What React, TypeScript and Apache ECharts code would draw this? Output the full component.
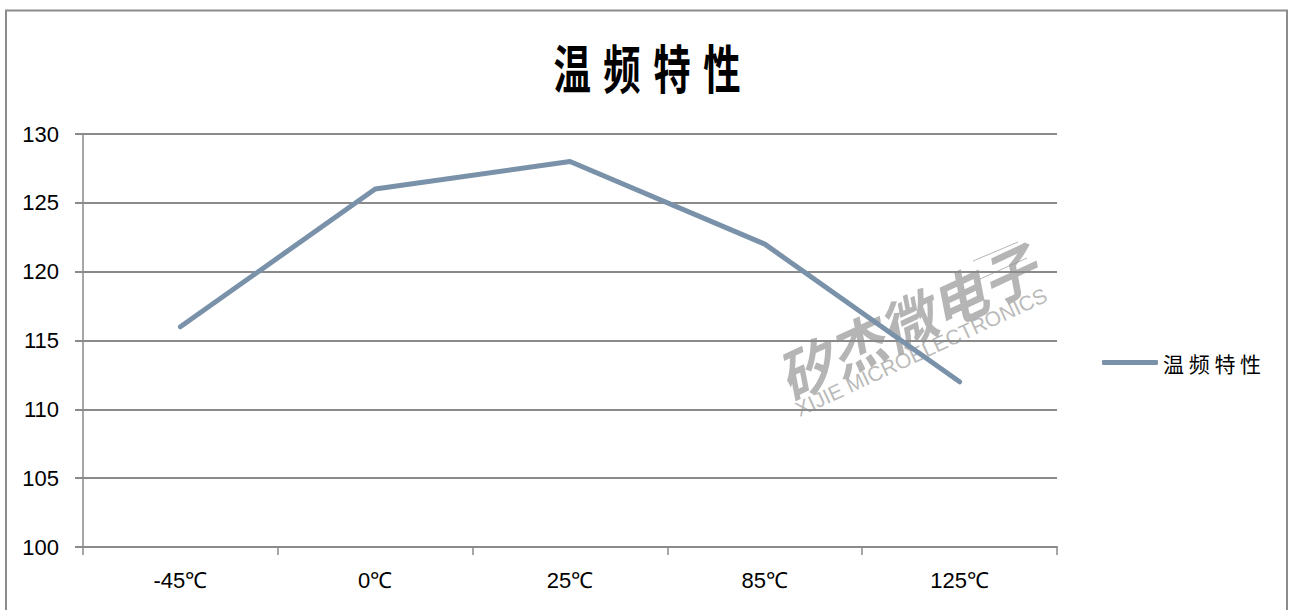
import React, { useEffect, useRef } from "react";
import * as echarts from "echarts";

const categories = ["-45℃", "0℃", "25℃", "85℃", "125℃"];
const seriesName = "温频特性";
const values = [116, 126, 128, 122, 112];
const yMin = 100;
const yMax = 130;
const yStep = 5;

const NARROW = "'Liberation Sans Narrow', 'Arial Narrow', 'Liberation Sans', sans-serif";
const CJK = "'Noto Sans CJK SC', 'Noto Sans', sans-serif";
const WM_ROT = (25 * Math.PI) / 180;

export default function App() {
  const ref = useRef<HTMLDivElement>(null);
  useEffect(() => {
    document.body.style.margin = "0";
    const chart = echarts.init(ref.current!, null, { renderer: "svg" });
    chart.setOption({
      animation: false,
      backgroundColor: "#ffffff",
      grid: { left: 83, right: 233, top: 134, bottom: 63, containLabel: false },
      legend: {
        data: [seriesName],
        left: 1097,
        top: 347,
        icon: "roundRect",
        itemWidth: 56,
        itemHeight: 5,
        formatter: (n: string) => n.split("").join(" "),
        textStyle: { fontFamily: CJK, fontSize: 21, color: "#000", padding: [0, 0, 0, 0] },
      },
      xAxis: {
        type: "category",
        data: categories,
        boundaryGap: true,
        axisLine: { show: true, lineStyle: { color: "#8a8a8a", width: 2 } },
        axisTick: { show: true, length: 8, alignWithLabel: false, lineStyle: { color: "#8a8a8a", width: 1.5 } },
        axisLabel: { margin: 22, fontFamily: NARROW, fontSize: 22, color: "#000" },
        splitLine: { show: false },
      },
      yAxis: {
        type: "value",
        min: yMin,
        max: yMax,
        interval: yStep,
        axisLine: { show: true, lineStyle: { color: "#8a8a8a", width: 1.5 } },
        axisTick: { show: true, length: 8, lineStyle: { color: "#8a8a8a", width: 2 } },
        axisLabel: { margin: 24, fontFamily: NARROW, fontSize: 22, color: "#000" },
        splitLine: { show: true, lineStyle: { color: "#8a8a8a", width: 2 } },
      },
      series: [
        {
          name: seriesName,
          type: "line",
          data: values,
          showSymbol: false,
          symbol: "none",
          itemStyle: { color: "#7a92a9" },
          lineStyle: { color: "#7a92a9", width: 5, cap: "round", join: "round" },
          z: 3,
        },
      ],
      graphic: [
        {
          type: "rect",
          z: -1,
          shape: { x: 6, y: 10.5, width: 1281, height: 640 },
          style: { fill: "none", stroke: "#8c8c8c", lineWidth: 2 },
          silent: true,
        },
        {
          type: "text",
          x: 647,
          y: 66,
          scaleX: 0.72,
          style: {
            text: "温\u2004频\u2004特\u2004性",
            fontFamily: CJK,
            fontSize: 52,
            fontWeight: "bold",
            fill: "#000",
            align: "center",
            verticalAlign: "middle",
          },
        },
        {
          type: "group",
          z: 100,
          silent: true,
          children: [
            {
              type: "text",
              x: 906,
              y: 320,
              rotation: WM_ROT,
              style: {
                text: "矽杰微电子",
                fontFamily: CJK,
                fontSize: 56,
                fontWeight: "bold",
                fontStyle: "italic",
                fill: "rgba(150,150,150,0.7)",
                align: "center",
                verticalAlign: "middle",
              },
            },
            {
              type: "text",
              x: 921,
              y: 352,
              rotation: WM_ROT,
              style: {
                text: "XIJIE MICROELECTRONICS",
                fontFamily: "'Liberation Sans', sans-serif",
                fontSize: 21,
                fill: "rgba(160,160,160,0.72)",
                align: "center",
                verticalAlign: "middle",
              },
            },
            {
              type: "line",
              shape: { x1: 973, y1: 261, x2: 1018, y2: 242 },
              style: { stroke: "rgba(150,150,150,0.7)", lineWidth: 1 },
            },
            {
              type: "line",
              shape: { x1: 980, y1: 279, x2: 1027, y2: 258 },
              style: { stroke: "rgba(150,150,150,0.7)", lineWidth: 1 },
            },
          ],
        },
      ],
    });
    return () => chart.dispose();
  }, []);
  return <div ref={ref} style={{ width: 1290, height: 610 }} />;
}
